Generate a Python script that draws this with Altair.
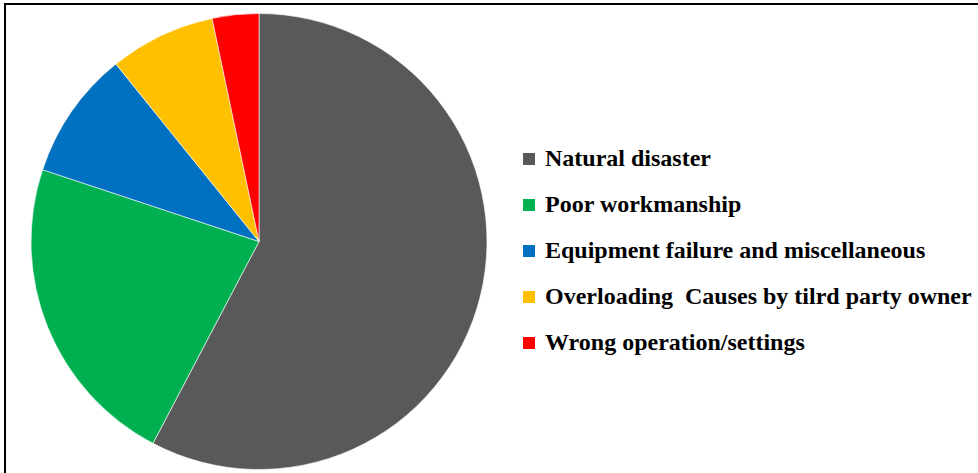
import altair as alt
import pandas as pd

causes = [
    "Natural disaster",
    "Poor workmanship",
    "Equipment failure and miscellaneous",
    "Overloading\u00a0\u00a0Causes by tilrd party owner",
    "Wrong operation/settings",
]
shares = [57.7, 22.4, 9.1, 7.5, 3.3]
colors = ["#595959", "#00B050", "#0070C0", "#FFC000", "#FF0000"]

df = pd.DataFrame({"cause": causes, "share": shares, "order": list(range(len(causes)))})

pie = alt.Chart(df).mark_arc(radius=228, stroke="white", strokeWidth=0.6).encode(
    x=alt.value(259),
    y=alt.value(241.5),
    theta=alt.Theta("share:Q", stack=True),
    order=alt.Order("order:Q"),
    color=alt.Color(
        "cause:N",
        scale=alt.Scale(domain=causes, range=colors),
        legend=alt.Legend(
            title=None,
            orient="none",
            legendX=517,
            legendY=147,
            padding=0,
            symbolType="square",
            symbolSize=144,
            symbolStrokeWidth=0,
            labelFont="Liberation Serif",
            labelFontWeight="bold",
            labelFontSize=24,
            labelColor="black",
            labelOffset=4,
            labelLimit=1000,
            rowPadding=22,
        ),
    ),
)

frame = alt.Chart(pd.DataFrame({"a": [0]})).mark_rect(
    fill=None, fillOpacity=0, stroke="black", strokeWidth=2
).encode(
    x=alt.value(5), x2=alt.value(1100), y=alt.value(4), y2=alt.value(600)
)

chart = alt.layer(pie, frame).properties(
    width=978, height=473,
    autosize=alt.AutoSizeParams(type="none"),
    padding=0,
).configure(background="white", font="Liberation Serif").configure_view(
    stroke=None
).configure_legend(labelFont="Liberation Serif", labelFontWeight="bold")

chart.save("out.html", embed_options={"renderer": "svg", "actions": False})
